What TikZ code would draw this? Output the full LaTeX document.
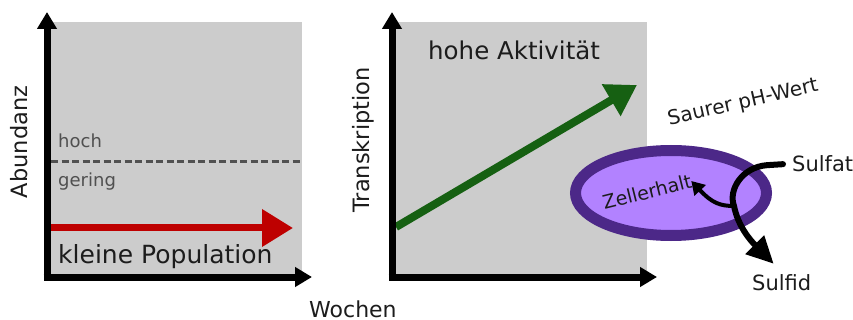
\documentclass[tikz,border=0pt]{standalone}
\usepackage{fontspec}
\setmainfont{DejaVu Sans}
\usetikzlibrary{arrows.meta,shapes.geometric}
\definecolor{feld}{RGB}{204,204,204}
\definecolor{rotpfeil}{RGB}{190,0,0}
\definecolor{gruenpfeil}{RGB}{22,96,18}
\definecolor{ring}{RGB}{76,40,136}
\definecolor{plasma}{RGB}{178,130,255}
\definecolor{strich}{RGB}{80,80,80}
\definecolor{schrift}{RGB}{28,28,28}
\newcommand{\gr}[1]{\fontsize{#1}{#1}\selectfont}
\tikzset{
  achse/.style = {line width=7pt, -{Triangle[length=17pt,width=19pt]}},
  lab/.style = {inner sep=0pt, text=schrift},
  flux/.style = {line width=6pt, line cap=round, -{Triangle[length=27pt,width=25pt]}},
}
\begin{document}
\begin{tikzpicture}[x=1pt,y=-1pt]
	\useasboundingbox (0,0) rectangle (853,320);
	% Felder
	\fill[feld] (51,22) rectangle (302,277);
	\fill[feld] (396,22) rectangle (647,277);
	% linkes Diagramm
	\draw[strich, line width=3pt, dash pattern=on 7pt off 3.5pt] (51,162) -- (302,162);
	\draw[rotpfeil, line width=7pt, -{Triangle[length=31pt,width=36pt]}] (51,228) -- (293,228);
	\draw[achse] (47,280.5) -- (47,12);
	\draw[achse] (43.5,277) -- (312,277);
	\node[lab, text=strich, anchor=base west] (hoch) at (58,148) {\gr{18}hoch};
	\node[lab, text=strich, anchor=base west] (gering) at (58,187) {\gr{18}gering};
	\node[lab, anchor=base west] (klein) at (58,263) {\gr{25}kleine Population};
	\node[lab, rotate=90] (abund) at (19,142) {\gr{22.5}Abundanz};
	% rechtes Diagramm
	\draw[gruenpfeil, line width=8pt, -{Triangle[length=30pt,width=35pt]}] (396,227) -- (637,85);
	\draw[achse] (392,280.5) -- (392,12);
	\draw[achse] (388.5,277) -- (657,277);
	\node[lab, anchor=base west] (hohe) at (428,60) {\gr{24.5}hohe Aktivität};
	\node[lab, rotate=90] (trans) at (363,140) {\gr{22.5}Transkription};
	\node[lab, anchor=base west] (wochen) at (309,317) {\gr{22}Wochen};
	% Zelle
	\node[ellipse, draw=ring, fill=plasma, line width=11pt, inner sep=0pt,
	      minimum width=191pt, minimum height=85pt] (zelle) at (671,193) {};
	\node[lab, rotate=14] (erhalt) at (647,192) {\gr{19}Zellerhalt};
	\node[lab, rotate=13] (ph) at (743,103) {\gr{20}Saurer pH-Wert};
	\node[lab, anchor=base west] (sulfat) at (792,172) {\gr{21}Sulfat};
	\node[lab, anchor=base west] (sulfid) at (752,290) {\gr{21}Sulfid};
	\coordinate (abzweig) at (734,206);
	\draw[flux] ([xshift=-9pt]sulfat.west) -- ++(-16,1)
		.. controls (742,167) and (728,190) .. (abzweig)
		.. controls (738,226) and (750,240) .. ([shift={(-8pt,10pt)}]sulfid.north);
	\draw[line width=4pt, -{Triangle[length=13pt,width=15pt]}] (abzweig)
		.. controls (720,206) and (712,203) .. (erhalt.east);
\end{tikzpicture}
\end{document}
